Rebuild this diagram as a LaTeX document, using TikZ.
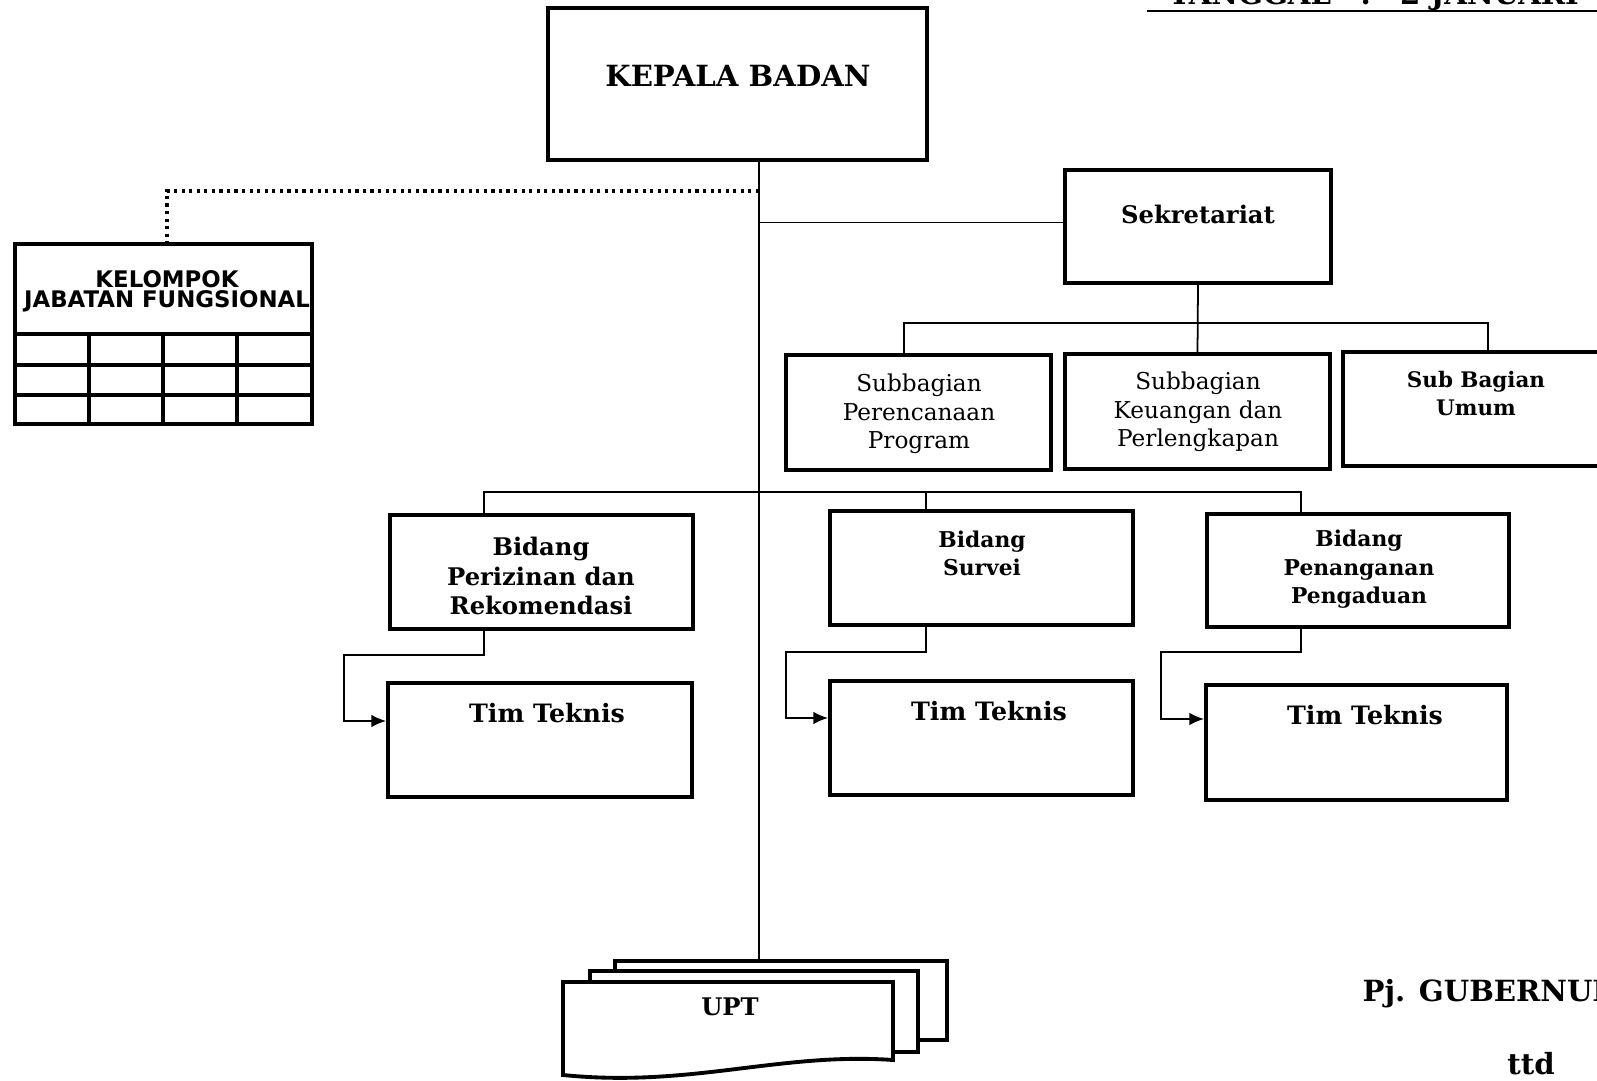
\documentclass[tikz,border=0pt]{standalone}
\usepackage{fontspec}
\setmainfont{DejaVu Serif}
\newfontfamily\kjffont{DejaVu Sans}
\usetikzlibrary{positioning, arrows.meta}

\begin{document}
\begin{tikzpicture}[
    box/.style={draw, line width=1.1pt, inner sep=0pt, fill=white},
    link/.style={line width=0.5pt},
    dots/.style={line width=0.9pt, dash pattern=on 0.9pt off 1.25pt},
    bold/.style={font=\fontsize{6.9}{8.5}\selectfont\bfseries, align=center, inner sep=0pt},
    small/.style={font=\fontsize{6.2}{8}\selectfont\bfseries, align=center, inner sep=0pt},
    thin/.style={font=\fontsize{6.6}{8.1}\selectfont, align=center, inner sep=0pt},
    big/.style={font=\fontsize{8.3}{10}\selectfont\bfseries, inner sep=0pt}]

    \useasboundingbox (0, 0) rectangle (15.97, -10.81);

    \node (tanggal) at (11.68, -0.05) [big, anchor=base west] {TANGGAL\quad :\quad 2 JANUARI};
    \draw[line width=0.8pt] (11.47, -0.11) -- (16.2, -0.11);

    \node (kepala) at (7.375, -0.84) [box, minimum width=3.79cm, minimum height=1.52cm] {};
    \node (kepalatxt) at (7.38, -0.76) [big] {KEPALA BADAN};

    \node (kjf) at (1.635, -3.34) [box, minimum width=2.97cm, minimum height=1.80cm] {};
    \foreach \y in {-3.34, -3.65, -3.95}
        \draw[line width=1.1pt] (0.15, \y) -- (3.12, \y);
    \foreach \x in {0.89, 1.63, 2.37}
        \draw[line width=1.1pt] (\x, -3.34) -- (\x, -4.24);
    \node (kjftxt) at (1.67, -2.91) [font=\kjffont\fontsize{6.5}{5.6}\selectfont\bfseries, align=center, inner sep=0pt] {KELOMPOK\\JABATAN FUNGSIONAL};

    \node (sek) at (11.98, -2.265) [box, minimum width=2.66cm, minimum height=1.13cm] {};
    \node (sektxt) at (11.98, -2.14) [bold] {Sekretariat};

    \node (sub1) at (9.185, -4.125) [box, minimum width=2.65cm, minimum height=1.15cm] {};
    \node (sub1txt) at (9.19, -4.14) [thin] {Subbagian\\Perencanaan\\Program};
    \node (sub2) at (11.975, -4.115) [box, minimum width=2.65cm, minimum height=1.15cm] {};
    \node (sub2txt) at (11.98, -4.12) [thin] {Subbagian\\Keuangan dan\\Perlengkapan};
    \node (sub3) at (14.76, -4.09) [box, minimum width=2.66cm, minimum height=1.14cm] {};
    \node (sub3txt) at (14.76, -3.935) [small, font=\fontsize{6.1}{7.8}\selectfont\bfseries] {Sub Bagian\\Umum};

    \node (bid1) at (5.415, -5.72) [box, minimum width=3.03cm, minimum height=1.14cm] {};
    \node (bid1txt) at (5.41, -5.76) [bold] {Bidang\\Perizinan dan\\Rekomendasi};
    \node (bid2) at (9.815, -5.68) [box, minimum width=3.03cm, minimum height=1.14cm] {};
    \node (bid2txt) at (9.82, -5.53) [small] {Bidang\\Survei};
    \node (bid3) at (13.58, -5.705) [box, minimum width=3.02cm, minimum height=1.13cm] {};
    \node (bid3txt) at (13.59, -5.695) [small, font=\fontsize{6.2}{8.1}\selectfont\bfseries] {Bidang\\Penanganan\\Pengaduan};

    \node (tim1) at (5.40, -7.40) [box, minimum width=3.04cm, minimum height=1.14cm] {};
    \node (tim1txt) at (5.47, -7.13) [bold, font=\fontsize{7.2}{8.5}\selectfont\bfseries] {Tim Teknis};
    \node (tim2) at (9.815, -7.38) [box, minimum width=3.03cm, minimum height=1.14cm] {};
    \node (tim2txt) at (9.89, -7.11) [bold, font=\fontsize{7.2}{8.5}\selectfont\bfseries] {Tim Teknis};
    \node (tim3) at (13.565, -7.425) [box, minimum width=3.01cm, minimum height=1.15cm] {};
    \node (tim3txt) at (13.65, -7.15) [bold, font=\fontsize{7.2}{8.5}\selectfont\bfseries] {Tim Teknis};

    \node (upt3) at (7.81, -10.005) [box, minimum width=3.32cm, minimum height=0.79cm] {};
    \node (upt2) at (7.54, -10.115) [box, minimum width=3.28cm, minimum height=0.81cm] {};
    \draw[line width=1.1pt, fill=white] (5.63, -9.82) -- (8.93, -9.82) -- (8.93, -10.60)
        .. controls (7.8, -10.52) and (6.9, -10.88) .. (5.63, -10.75) -- cycle;
    \node (upt) at (7.30, -10.07) [bold] {UPT};

    \node (gub) at (13.62, -9.94) [big, anchor=west] {Pj. GUBERNUR};
    \node (ttd) at (15.31, -10.64) [big] {ttd};

    \coordinate (trunk) at (7.59, -1.91);
    \coordinate (bus) at (7.59, -4.92);

    \draw[link] (kepala.south -| trunk) -- (upt3.north -| trunk);
    \draw[dots] (trunk) -| ([xshift=0.035cm]kjf.north);
    \draw[link] ([yshift=0.04cm]trunk |- sek.west) -- ([yshift=0.04cm]sek.west);

    \draw[link] (sek.south) -- (sub2.north);
    \draw[link] ([xshift=-0.145cm]sub1.north) |- ([xshift=0.12cm]sub3.north |- 0, -3.23) -- ([xshift=0.12cm]sub3.north);

    \draw[link] ([xshift=-0.575cm]bid1.north) |- (bus) -| ([xshift=-0.57cm]bid3.north);
    \draw[link] ([xshift=-0.555cm]bid2.north) -- ([xshift=-0.555cm]bid2.north |- bus);

    \draw[link, -{Latex[length=4.2pt, width=3.6pt]}] ([xshift=-0.575cm]bid1.south) |- ++(-1.40, -0.24) |- ([yshift=0.19cm]tim1.west);
    \draw[link, -{Latex[length=4.2pt, width=3.6pt]}] ([xshift=-0.555cm]bid2.south) |- ++(-1.40, -0.25) |- ([yshift=0.20cm]tim2.west);
    \draw[link, -{Latex[length=4.2pt, width=3.6pt]}] ([xshift=-0.57cm]bid3.south) |- ++(-1.40, -0.23) |- ([yshift=0.235cm]tim3.west);
\end{tikzpicture}
\end{document}
